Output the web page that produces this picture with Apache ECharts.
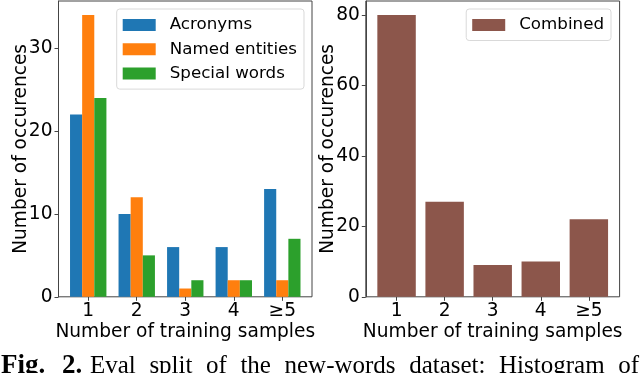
<!DOCTYPE html>
<html><head><meta charset="utf-8">
<script src="https://cdn.jsdelivr.net/npm/echarts@6/dist/echarts.min.js"></script>
<style>html,body{margin:0;padding:0;background:#fff}#c{width:640px;height:373px}</style>
</head><body><div id="c"></div>
<script>
// ---- data ----
const categories = ['1', '2', '3', '4', '≥5'];
const acronyms = [22, 10, 6, 6, 13];
const namedEntities = [34, 12, 1, 2, 2];
const specialWords = [24, 5, 2, 2, 7];
const combined = [80, 27, 9, 10, 22];
const leftYMax = 35.7;
const rightYMax = 84;
const leftYInterval = 10;
const rightYInterval = 20;
const xTitle = 'Number of training samples';
const yTitle = 'Number of occurences';
const captionBold = ['Fig.', '2.'];
const captionWords = ['Eval', 'split', 'of', 'the', 'new-words', 'dataset:', 'Histogram', 'of'];

// ---- styling ----
const FONT = 'DejaVu Sans';
const FS = 18.6;
const AX = '#444';
const chart = echarts.init(document.getElementById('c'), null, {renderer: 'canvas'});

const gTop = 1, gH = 295.8;
const grids = [
  {left: 58.5, top: gTop, width: 253.5, height: gH, show: true, borderColor: AX, borderWidth: 1, backgroundColor: 'transparent'},
  {left: 63.96, top: gTop, width: 242.6, height: gH},
  {left: 365.8, top: gTop, width: 253.8, height: gH, show: true, borderColor: AX, borderWidth: 1, backgroundColor: 'transparent'},
  {left: 372.53, top: gTop, width: 240.35, height: gH}
];

function catAxis(gi) {
  return {
    type: 'category', gridIndex: gi, data: categories,
    axisLine: {show: false},
    axisTick: {show: true, alignWithLabel: true, length: 4, lineStyle: {color: AX, width: 1}},
    axisLabel: {fontFamily: FONT, fontSize: FS, color: '#000', margin: 5},
    name: xTitle, nameLocation: 'middle', nameGap: 26, nameMoveOverlap: false,
    nameTextStyle: {fontFamily: FONT, fontSize: FS, color: '#000'}
  };
}
function valAxis(gi, max, interval) {
  return {
    type: 'value', gridIndex: gi, min: 0, max, interval,
    axisLine: {show: true, lineStyle: {color: AX, width: 1}},
    axisTick: {show: true, length: 4, lineStyle: {color: AX, width: 1}},
    axisLabel: {fontFamily: FONT, fontSize: FS, color: '#000', margin: 6, showMaxLabel: false},
    splitLine: {show: false},
    name: yTitle, nameLocation: 'middle', nameGap: 28, nameRotate: 90, nameMoveOverlap: false,
    nameTextStyle: {fontFamily: FONT, fontSize: FS, color: '#000'}
  };
}
function hiddenVal(gi, max) {
  return {type: 'value', gridIndex: gi, min: 0, max, show: false, splitLine: {show: false}};
}

// caption words positioned by measured widths (justified line)
const cv = document.createElement('canvas').getContext('2d');
const capFont = '25px "Liberation Serif"';
const boldFont = 'bold 27px "Liberation Serif"';
cv.font = capFont;
const widths = captionWords.map(w => cv.measureText(w).width);
const startX = 90, endX = 639;
const gap = (endX - startX - widths.reduce((a, b) => a + b, 0)) / (captionWords.length - 1);
const capY = 366;
const graphics = [];
graphics.push({type: 'text', x: 1, y: capY, style: {text: captionBold[0], font: boldFont, fill: '#000', verticalAlign: 'middle'}});
graphics.push({type: 'text', x: 62, y: capY, style: {text: captionBold[1], font: boldFont, fill: '#000', verticalAlign: 'middle'}});
let cx = startX;
captionWords.forEach((w, i) => {
  graphics.push({type: 'text', x: cx, y: capY, style: {text: w, font: capFont, fill: '#000', verticalAlign: 'middle'}});
  cx += widths[i] + gap;
});

const legendBase = {
  orient: 'vertical', icon: 'rect', itemWidth: 33, itemHeight: 12, itemGap: 6.3,
  padding: [7, 7, 6.5, 6], borderColor: '#d9d9d9', borderWidth: 1, borderRadius: 3,
  backgroundColor: 'rgba(255,255,255,0.8)',
  textStyle: {fontFamily: FONT, fontSize: 16.7, color: '#000', lineHeight: 18, padding: [0, 0, 0, 9]},
  selectedMode: false
};

chart.setOption({
  animation: false,
  grid: grids,
  xAxis: [
    {type: 'value', gridIndex: 0, min: 0, max: 1, show: false},
    catAxis(1),
    {type: 'value', gridIndex: 2, min: 0, max: 1, show: false},
    catAxis(3)
  ],
  yAxis: [
    valAxis(0, leftYMax, leftYInterval),
    hiddenVal(1, leftYMax),
    valAxis(2, rightYMax, rightYInterval),
    hiddenVal(3, rightYMax)
  ],
  legend: [
    Object.assign({}, legendBase, {left: 116.7, top: 9, data: ['Acronyms', 'Named entities', 'Special words']}),
    Object.assign({}, legendBase, {right: 29, top: 9, data: ['Combined']})
  ],
  series: [
    {name: 'Acronyms', type: 'bar', xAxisIndex: 1, yAxisIndex: 1, data: acronyms, barWidth: 12.13, barGap: '0%', itemStyle: {color: '#1f77b4'}},
    {name: 'Named entities', type: 'bar', xAxisIndex: 1, yAxisIndex: 1, data: namedEntities, barWidth: 12.13, barGap: '0%', itemStyle: {color: '#ff7f0e'}},
    {name: 'Special words', type: 'bar', xAxisIndex: 1, yAxisIndex: 1, data: specialWords, barWidth: 12.13, barGap: '0%', itemStyle: {color: '#2ca02c'}},
    {name: 'Combined', type: 'bar', xAxisIndex: 3, yAxisIndex: 3, data: combined, barWidth: 38.45, itemStyle: {color: '#8c564b'}}
  ],
  graphic: graphics
});
</script></body></html>
